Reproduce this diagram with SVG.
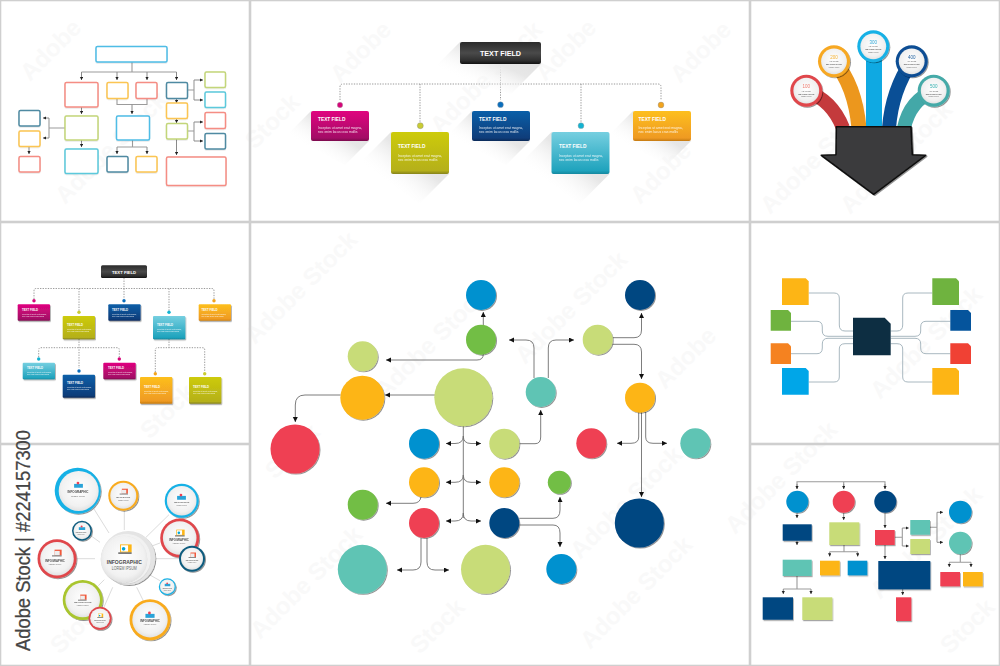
<svg xmlns="http://www.w3.org/2000/svg" width="1000" height="666" viewBox="0 0 1000 666">
<style>
text{font-family:"Liberation Sans",Arial,sans-serif}
.wm{font-size:24px;font-weight:700;fill:#f9f9f9}
.fr{fill:none;stroke:#cfcfcf;stroke-width:1.6}
.ob{fill:#fff;stroke-width:1.5;filter:url(#soft)}
.cg{fill:none;stroke:#9b9b9b;stroke-width:1.1}
.ca{fill:none;stroke:#6e6e6e;stroke-width:.9;marker-end:url(#ah)}
.cs{fill:none;stroke:#8a8a8a;stroke-width:1;marker-end:url(#as)}
.dot{fill:none;stroke:#8d8d8d;stroke-width:.9;stroke-dasharray:1.3 1.3}
.cl{fill:none;stroke:#a9b8c0;stroke-width:1}
.sp{stroke:#dcdcdc;stroke-width:1}
.tt{font-weight:700;fill:#fff}
.t2{font-size:4.800px}
.t4{font-size:2.800px}
.bd{fill:#fff;opacity:.85}
.b2{font-size:3.400px}
.b4{font-size:1.900px}
.c{filter:url(#ds)}
.f{filter:url(#fs)}
.ln{fill:url(#ls)}
.lg{fill:#c8dc78}.or{fill:#fdb515}.bl{fill:#0091cf}.gr{fill:#72be44}.rd{fill:#ef4052}.te{fill:#5fc4b4}.nv{fill:#034681}
.in{font-weight:700;fill:#4a4a4a;text-anchor:middle}
.lo{fill:#6a6a6a;text-anchor:middle}
.n3{text-anchor:middle}
</style>
<defs>
<filter id="ds" x="-20%" y="-20%" width="150%" height="150%"><feDropShadow dx="1" dy="1" stdDeviation=".6" flood-color="#000" flood-opacity=".42"/></filter>
<filter id="fs" x="-20%" y="-20%" width="150%" height="150%"><feDropShadow dx=".8" dy="1.2" stdDeviation=".7" flood-color="#000" flood-opacity=".35"/></filter>
<filter id="soft" x="-10%" y="-10%" width="120%" height="120%"><feDropShadow dx="0" dy=".5" stdDeviation=".6" flood-color="#000" flood-opacity=".18"/></filter>
<marker id="ah" markerUnits="userSpaceOnUse" markerWidth="6" markerHeight="6" refX="5" refY="2.5" orient="auto"><path d="M0 0L5 2.500L0 5z" fill="#111"/></marker>
<marker id="as" markerUnits="userSpaceOnUse" markerWidth="4" markerHeight="4" refX="3.200" refY="1.700" orient="auto"><path d="M0 0L3.200 1.700L0 3.400z" fill="#222"/></marker>
<linearGradient id="ls" x1="1" y1="0" x2="0" y2="1"><stop offset="0" stop-color="#dcdcdc"/><stop offset=".4" stop-color="#e7e7e7"/><stop offset=".72" stop-color="#fff" stop-opacity="0"/></linearGradient>
<linearGradient id="gD" x1="0" y1="0" x2="0" y2="1"><stop offset="0" stop-color="#2b2b2b"/><stop offset=".5" stop-color="#4a4a4a"/><stop offset=".85" stop-color="#2e2e2e"/><stop offset="1" stop-color="#111"/></linearGradient>
<linearGradient id="gM" x1="0" y1="0" x2="0" y2="1"><stop offset="0" stop-color="#e0047f"/><stop offset=".9" stop-color="#a30c66"/><stop offset="1" stop-color="#7a0a4c"/></linearGradient>
<linearGradient id="gO" x1="0" y1="0" x2="0" y2="1"><stop offset="0" stop-color="#cdcb0a"/><stop offset=".92" stop-color="#b5b01a"/><stop offset="1" stop-color="#85821a"/></linearGradient>
<linearGradient id="gB" x1="0" y1="0" x2="0" y2="1"><stop offset="0" stop-color="#0a5fa8"/><stop offset=".9" stop-color="#0f3d7a"/><stop offset="1" stop-color="#0b2a58"/></linearGradient>
<linearGradient id="gC" x1="0" y1="0" x2="0" y2="1"><stop offset="0" stop-color="#76cfe0"/><stop offset=".92" stop-color="#1fa3bd"/><stop offset="1" stop-color="#15889f"/></linearGradient>
<linearGradient id="gY" x1="0" y1="0" x2="0" y2="1"><stop offset="0" stop-color="#fdbf1e"/><stop offset=".9" stop-color="#ef9a22"/><stop offset="1" stop-color="#c47a12"/></linearGradient>
<radialGradient id="disc" cx=".5" cy=".45" r=".6"><stop offset="0" stop-color="#fff"/><stop offset=".72" stop-color="#f1f1f1"/><stop offset="1" stop-color="#dcdcdc"/></radialGradient>
<symbol id="ic" viewBox="0 0 20 14"><rect x="5" y="1" width="13" height="9" fill="#fdb515"/><rect x="6" y="2" width="8" height="7" fill="#fff"/><circle cx="9" cy="6" r="2" fill="#00a6d8"/><rect x="3" y="10" width="15" height="1.500" fill="#555"/></symbol>
<symbol id="ir" viewBox="0 0 20 14"><rect x="7" y="1" width="11" height="9" fill="#f05a3c"/><rect x="7" y="3" width="8" height="7" fill="#eee"/><rect x="3" y="10" width="15" height="1.500" fill="#666"/></symbol>
<symbol id="ib" viewBox="0 0 20 14"><rect x="2" y="5" width="16" height="7" fill="#2aa3d8"/><circle cx="9" cy="3.500" r="2.500" fill="#ef4052"/></symbol>
</defs>
<rect width="1000" height="666" fill="#fff"/>

<g id="watermark">
<text class="wm" transform="rotate(-45 30 82)" x="30" y="82">Adobe</text>
<text class="wm" transform="rotate(-45 65 205)" x="65" y="205">Adobe Stock</text>
<text class="wm" transform="rotate(-45 340 84)" x="340" y="84">Adobe</text>
<text class="wm" transform="rotate(-45 255 150)" x="255" y="150">Stock</text>
<text class="wm" transform="rotate(-45 440 135)" x="440" y="135">Adobe Stock</text>
<text class="wm" transform="rotate(-45 545 82)" x="545" y="82">Adobe</text>
<text class="wm" transform="rotate(-45 640 205)" x="640" y="205">Adobe</text>
<text class="wm" transform="rotate(-45 680 84)" x="680" y="84">Adobe</text>
<text class="wm" transform="rotate(-45 770 215)" x="770" y="215">Adobe Stock</text>
<text class="wm" transform="rotate(-45 850 215)" x="850" y="215">Adobe Stock</text>
<text class="wm" transform="rotate(-45 255 345)" x="255" y="345">Adobe Stock</text>
<text class="wm" transform="rotate(-45 385 400)" x="385" y="400">Adobe Stock</text>
<text class="wm" transform="rotate(-45 275 480)" x="275" y="480">Stock</text>
<text class="wm" transform="rotate(-45 525 365)" x="525" y="365">Adobe Stock</text>
<text class="wm" transform="rotate(-45 580 560)" x="580" y="560">Adobe Stock</text>
<text class="wm" transform="rotate(-45 665 390)" x="665" y="390">Adobe</text>
<text class="wm" transform="rotate(-45 260 640)" x="260" y="640">Adobe Stock</text>
<text class="wm" transform="rotate(-45 420 655)" x="420" y="655">Stock</text>
<text class="wm" transform="rotate(-45 590 650)" x="590" y="650">Adobe Stock</text>
<text class="wm" transform="rotate(-45 735 535)" x="735" y="535">Adobe Stock</text>
<text class="wm" transform="rotate(-45 880 400)" x="880" y="400">Adobe Stock</text>
<text class="wm" transform="rotate(-45 880 600)" x="880" y="600">Adobe Stock</text>
<text class="wm" transform="rotate(-45 950 655)" x="950" y="655">Stock</text>
<text class="wm" transform="rotate(-45 60 655)" x="60" y="655">Stock</text>
<text class="wm" transform="rotate(-45 150 440)" x="150" y="440">Stock</text>
</g>

<g id="frames">
<rect class="fr" x=".5" y=".5" width="249" height="221"/>
<rect class="fr" x="250.500" y=".5" width="499" height="221"/>
<rect class="fr" x="750.500" y=".5" width="249" height="221"/>
<rect class="fr" x=".5" y="222.500" width="249" height="221"/>
<rect class="fr" x="250.500" y="222.500" width="499" height="443"/>
<rect class="fr" x="750.500" y="222.500" width="249" height="221"/>
<rect class="fr" x=".5" y="444.500" width="249" height="221"/>
<rect class="fr" x="750.500" y="444.500" width="249" height="221"/>
</g>

<g id="connectors">
<!-- panel 1 -->
<path class="cg" d="M132 62V72M81.500 72H176.500M117 99V104.500H147V99M49 118V138M65 128H49M194 80V100M187 90H194M194 122V141M187 131H194"/>
<path class="cs" d="M81.500 72V80"/><path class="cs" d="M117 72V80"/><path class="cs" d="M147 72V80"/><path class="cs" d="M176.500 72V80"/>
<path class="cs" d="M132 104.500V114"/><path class="cs" d="M81.500 107V114"/><path class="cs" d="M81.500 140V147"/>
<path class="cs" d="M176.500 99V103"/><path class="cs" d="M176.500 119V123"/><path class="cs" d="M176.500 139V155"/>
<path class="cs" d="M194 80H203"/><path class="cs" d="M194 100H203"/><path class="cs" d="M194 122H203"/><path class="cs" d="M194 141H203"/>
<path class="cs" d="M49 118H43"/><path class="cs" d="M49 138H43"/><path class="cs" d="M29 147V154"/>
<path class="cg" d="M132.500 140V147H117M132.500 147H147"/><path class="cs" d="M117 147V154"/><path class="cs" d="M147 147V154"/>
<!-- panel 2 -->
<path class="dot" d="M500.500 64V84M340 100V87Q340 84 343 84H658Q661 84 661 87V100M420 84V122M500.500 84V100M581 84V122"/>
<!-- panel 4 -->
<path class="dot" d="M124 278V288.500M34 299V291Q34 288.500 36 288.500H212Q214 288.500 214 291V299M79 288.500V311M124 288.500V299M169 288.500V311"/>
<path class="dot" d="M79 339V368M38.700 357V350Q38.700 347.700 41 347.700H117Q119.300 347.700 119.300 350V357"/>
<path class="dot" d="M169 339V347.700M155.300 372V350Q155.300 347.700 157.500 347.700H202.500Q204.700 347.700 204.700 350V372"/>
<!-- panel 5 spokes -->
<line class="sp" x1="94" y1="509" x2="109" y2="533"/>
<line class="sp" x1="124.300" y1="510.700" x2="124.300" y2="530"/>
<line class="sp" x1="169" y1="514.700" x2="146" y2="537.300"/>
<line class="sp" x1="160" y1="543" x2="152.700" y2="545.700"/>
<line class="sp" x1="181.700" y1="558.700" x2="156" y2="558.700"/>
<line class="sp" x1="160" y1="580.700" x2="150" y2="575"/>
<line class="sp" x1="143.300" y1="600.700" x2="136.700" y2="587.300"/>
<line class="sp" x1="104" y1="607" x2="112.700" y2="587.300"/>
<line class="sp" x1="98.300" y1="585.700" x2="104.300" y2="579.700"/>
<line class="sp" x1="76.700" y1="558.700" x2="95" y2="558.700"/>
<line class="sp" x1="91.700" y1="536.300" x2="100" y2="542.300"/>
<!-- main panel -->
<path class="ca" d="M483.300 325V312"/>
<path class="ca" d="M483.300 354Q483.300 360 477 360H386"/>
<path class="ca" d="M435 395H385"/>
<path class="ca" d="M340.700 395H305Q295.300 395 295.300 405V422"/>
<path fill="none" stroke="#6e6e6e" stroke-width=".9" d="M463.300 426V518"/>
<path class="ca" d="M463.300 436Q463.300 443.500 455 443.500H446"/><path class="ca" d="M463.300 436Q463.300 443.500 471 443.500H481"/>
<path class="ca" d="M463.300 475Q463.300 482.300 455 482.300H446"/><path class="ca" d="M463.300 475Q463.300 482.300 471 482.300H481"/>
<path class="ca" d="M463.300 513Q463.300 521 455 521H446"/><path class="ca" d="M463.300 513Q463.300 521 471 521H481"/>
<path class="ca" d="M421 497Q420 503.300 413 503.300H386"/>
<path class="ca" d="M421 538V562Q421 570 413 570H397"/>
<path class="ca" d="M427 538V562Q427 570 435 570H449"/>
<path class="ca" d="M519.300 443.700H535Q540.700 443.700 540.700 437V410"/>
<path class="ca" d="M534 378V348Q534 340 526 340H509"/>
<path class="ca" d="M548.300 378V348Q548.300 340 556 340H574"/>
<path class="ca" d="M612.700 337.700H634Q641.500 337.700 641.500 330V313"/>
<path class="ca" d="M612.700 344.300H634Q641.500 344.300 641.500 352V379"/>
<path class="ca" d="M638.700 412V437Q638.700 443.300 631 443.300H617"/>
<path class="ca" d="M641.500 412V497"/>
<path class="ca" d="M645.700 412V437Q645.700 443.300 653 443.300H667"/>
<path class="ca" d="M519.300 518.300H553Q560 518.300 560 510V497"/>
<path class="ca" d="M519.300 525H553Q560 525 560 533V547"/>
<!-- panel 6 -->
<path class="cl" d="M808.700 293H834Q839.300 293 839.300 298V325Q839.300 331 845 331H853"/>
<path class="cl" d="M791 321.300H817Q822.300 321.300 822.300 327V331Q822.300 336.300 828 336.300H853"/>
<path class="cl" d="M791 353.700H817Q822.300 353.700 822.300 348V344Q822.300 338.300 828 338.300H853"/>
<path class="cl" d="M808.700 382H834Q839.300 382 839.300 377V349Q839.300 343.700 845 343.700H853"/>
<path class="cl" d="M932.300 293H908Q902.700 293 902.700 298V325Q902.700 331 897 331H890.700"/>
<path class="cl" d="M950.300 321.300H926Q920.700 321.300 920.700 327V331Q920.700 336.300 915 336.300H890.700"/>
<path class="cl" d="M950.300 353.700H926Q920.700 353.700 920.700 348V344Q920.700 338.300 915 338.300H890.700"/>
<path class="cl" d="M932.300 382H908Q902.700 382 902.700 377V349Q902.700 343.700 897 343.700H890.700"/>
<!-- panel 7 -->
<path class="cg" d="M797 489V481.700H885V489M843.700 481.700V489M844 545V551.700M829.700 551.700H857.700M894.700 537.300H902.300M902.300 528V546M930 527.300H937M937 512.300V542.300M960.300 554V562.300M949.300 562.300H971M797 576V589M783.300 589H811"/>
<path class="cs" d="M797 484V489"/><path class="cs" d="M843.700 484V489"/><path class="cs" d="M885 484V489"/>
<path class="cs" d="M797 513V518"/><path class="cs" d="M797 540.700V545"/><path class="cs" d="M843.700 513V520"/><path class="cs" d="M885 513V528"/>
<path class="cs" d="M829.700 551.700V556.500"/><path class="cs" d="M857.700 551.700V556.500"/>
<path class="cs" d="M902.300 528H908.700"/><path class="cs" d="M902.300 546H908.700"/><path class="cs" d="M885 545V559"/>
<path class="cs" d="M937 512.300H943"/><path class="cs" d="M937 542.300H943"/>
<path class="cs" d="M949.300 562.300V567"/><path class="cs" d="M971 562.300V567"/>
<path class="cs" d="M783.300 589V594"/><path class="cs" d="M811 589V594"/><path class="cs" d="M902.700 589V595"/>
</g>

<!-- Panel 1 outlined boxes -->
<g id="p1-nodes">
<g id="p1-top"><rect class="ob" x="96" y="46.500" width="71" height="15.500" rx="1.500" stroke="#4fbde6"/></g>
<g id="p1-a"><rect class="ob" x="65" y="82.500" width="33" height="24.500" rx="1.500" stroke="#f58d84"/></g>
<g id="p1-b"><rect class="ob" x="107" y="82.500" width="21" height="16" rx="1.500" stroke="#fcc552"/></g>
<g id="p1-c"><rect class="ob" x="136" y="82.500" width="21" height="16" rx="1.500" stroke="#f58d84"/></g>
<g id="p1-d"><rect class="ob" x="166.500" y="82.500" width="21" height="16" rx="1.500" stroke="#4f8aa2"/></g>
<g id="p1-e"><rect class="ob" x="205" y="72" width="20.500" height="15.500" rx="1.500" stroke="#c3d67a"/></g>
<g id="p1-f"><rect class="ob" x="205" y="92" width="20.500" height="15.500" rx="1.500" stroke="#5cc9dc"/></g>
<g id="p1-g"><rect class="ob" x="205" y="112.500" width="20.500" height="16" rx="1.500" stroke="#f58d84"/></g>
<g id="p1-h"><rect class="ob" x="205" y="133.500" width="20.500" height="15.500" rx="1.500" stroke="#4f8aa2"/></g>
<g id="p1-i"><rect class="ob" x="166.500" y="103" width="21" height="15.500" rx="1.500" stroke="#fcc552"/></g>
<g id="p1-j"><rect class="ob" x="166.500" y="123.500" width="21" height="15.500" rx="1.500" stroke="#c3d67a"/></g>
<g id="p1-k"><rect class="ob" x="166.500" y="157" width="59.500" height="28.500" rx="1.500" stroke="#f58d84"/></g>
<g id="p1-l"><rect class="ob" x="65" y="116" width="33" height="24" rx="1.500" stroke="#c3d67a"/></g>
<g id="p1-m"><rect class="ob" x="116.500" y="116" width="33" height="24" rx="1.500" stroke="#4fbde6"/></g>
<g id="p1-n"><rect class="ob" x="65" y="149" width="33" height="24.500" rx="1.500" stroke="#5cc9dc"/></g>
<g id="p1-o"><rect class="ob" x="107" y="156.500" width="21" height="15.500" rx="1.500" stroke="#4f8aa2"/></g>
<g id="p1-p"><rect class="ob" x="136" y="156.500" width="21" height="15.500" rx="1.500" stroke="#fcc552"/></g>
<g id="p1-q"><rect class="ob" x="19" y="110.500" width="21" height="15.500" rx="1.500" stroke="#4f8aa2"/></g>
<g id="p1-r"><rect class="ob" x="19" y="131" width="21" height="15.500" rx="1.500" stroke="#fcc552"/></g>
<g id="p1-s"><rect class="ob" x="19" y="156.500" width="21" height="15.500" rx="1.500" stroke="#f58d84"/></g>
</g>

<!-- Panel 2 -->
<g id="p2-nodes">
<g id="p2-root"><polygon class="ln" points="460,42 541,64 511,94 430,72"/><rect x="460" y="42" width="81" height="22" rx="2" fill="url(#gD)"/><text class="tt" x="500.500" y="55.500" font-size="7.200" text-anchor="middle">TEXT FIELD</text></g>
<g id="p2-a"><polygon class="ln" points="311,111 369,141 345,165 287,135"/><rect x="311" y="111" width="58" height="30" rx="2" fill="url(#gM)"/><text class="tt t2" x="318" y="120.700">TEXT FIELD</text><text class="bd b2" x="318" y="129">Inceptos ut amet erat magna,</text><text class="bd b2" x="318" y="133">nec enim lacus cras mollis</text><circle cx="340" cy="105" r="2.700" fill="#d6047a" stroke="#999" stroke-width=".4"/></g>
<g id="p2-b"><polygon class="ln" points="391,132 449,174 419,204 361,162"/><rect x="391" y="132" width="58" height="42" rx="2" fill="url(#gO)"/><text class="tt t2" x="398" y="148">TEXT FIELD</text><text class="bd b2" x="398" y="156.500">Inceptos ut amet erat magna,</text><text class="bd b2" x="398" y="160.500">nec enim lacus cras mollis</text><circle cx="420.300" cy="125.700" r="3" fill="#c9cc33" stroke="#888" stroke-width=".4"/></g>
<g id="p2-c"><polygon class="ln" points="472,111 530,141 506,165 448,135"/><rect x="472" y="111" width="58" height="30" rx="2" fill="url(#gB)"/><text class="tt t2" x="479" y="120.700">TEXT FIELD</text><text class="bd b2" x="479" y="129">Inceptos ut amet erat magna,</text><text class="bd b2" x="479" y="133">nec enim lacus cras mollis</text><circle cx="500.500" cy="104.700" r="2.900" fill="#0a6ebd" stroke="#999" stroke-width=".4"/></g>
<g id="p2-d"><polygon class="ln" points="551.500,132 609.500,174 579.500,204 521.500,162"/><rect x="551.500" y="132" width="58" height="42" rx="2" fill="url(#gC)"/><text class="tt t2" x="559" y="148">TEXT FIELD</text><text class="bd b2" x="559" y="156.500">Inceptos ut amet erat magna,</text><text class="bd b2" x="559" y="160.500">nec enim lacus cras mollis</text><circle cx="581" cy="125.700" r="2.900" fill="#12b3d2" stroke="#999" stroke-width=".4"/></g>
<g id="p2-e"><polygon class="ln" points="633,111 691,141 667,165 609,135"/><rect x="633" y="111" width="58" height="30" rx="2" fill="url(#gY)"/><text class="tt t2" x="638.500" y="120.700">TEXT FIELD</text><text class="bd b2" x="638.500" y="129">Inceptos ut amet erat magna,</text><text class="bd b2" x="638.500" y="133">nec enim lacus cras mollis</text><circle cx="661" cy="105" r="2.900" fill="#f2a41e" stroke="#888" stroke-width=".4"/></g>
</g>

<!-- Panel 3 -->
<g id="p3-nodes">
<g id="p3-bands" fill="none" stroke-width="14">
<path d="M806 91Q832 100 843 128" stroke="#c43a3c"/>
<path d="M834 61Q855 85 859 128" stroke="#ec971d" stroke-width="15"/>
<path d="M874 46V128" stroke="#0fa9e2" stroke-width="16"/>
<path d="M912 61Q892 90 889 128" stroke="#0a4f96"/>
<path d="M934 91Q910 100 904 128" stroke="#43a8a8"/>
</g>
<g id="p3-arrow"><path d="M836.300 126.700H911L912.300 154.700 925.700 155.300 873.700 194.300 821.300 155.300 836 154.700z" fill="#3b3b3d" stroke="#111" stroke-width="1.600" stroke-linejoin="round" filter="url(#ds)"/></g>
<g id="p3-1" class="c"><circle cx="806.300" cy="90.700" r="16" fill="#e0474c"/><circle cx="806.300" cy="90.700" r="12.900" fill="url(#disc)"/><text class="n3" x="806.300" y="88" font-size="4.500" fill="#ef7a6c">100</text><text class="lo" x="806.300" y="91.500" font-size="1.800">HEADLINE</text><text class="in" x="806.300" y="94.500" font-size="2.300">INFOGRAPHIC</text><text class="lo" x="806.300" y="97" font-size="1.500">LOREM IPSUM</text></g>
<g id="p3-2" class="c"><circle cx="834" cy="61.300" r="16" fill="#f7a823"/><circle cx="834" cy="61.300" r="12.900" fill="url(#disc)"/><text class="n3" x="834" y="58.500" font-size="4.500" fill="#f5b233">200</text><text class="lo" x="834" y="62" font-size="1.800">HEADLINE</text><text class="in" x="834" y="65" font-size="2.300">INFOGRAPHIC</text><text class="lo" x="834" y="67.500" font-size="1.500">LOREM IPSUM</text></g>
<g id="p3-3" class="c"><circle cx="873.300" cy="46.300" r="16" fill="#19b1e6"/><circle cx="873.300" cy="46.300" r="12.900" fill="url(#disc)"/><text class="n3" x="873.300" y="43.500" font-size="4.500" fill="#30a8d8">300</text><text class="lo" x="873.300" y="47" font-size="1.800">HEADLINE</text><text class="in" x="873.300" y="50" font-size="2.300">INFOGRAPHIC</text><text class="lo" x="873.300" y="52.500" font-size="1.500">LOREM IPSUM</text></g>
<g id="p3-4" class="c"><circle cx="911.700" cy="61.300" r="16" fill="#0b4e94"/><circle cx="911.700" cy="61.300" r="12.900" fill="url(#disc)"/><text class="n3" x="911.700" y="58.500" font-size="4.500" fill="#1e5f9e">400</text><text class="lo" x="911.700" y="62" font-size="1.800">HEADLINE</text><text class="in" x="911.700" y="65" font-size="2.300">INFOGRAPHIC</text><text class="lo" x="911.700" y="67.500" font-size="1.500">LOREM IPSUM</text></g>
<g id="p3-5" class="c"><circle cx="933.700" cy="90.700" r="16" fill="#45aaa8"/><circle cx="933.700" cy="90.700" r="12.900" fill="url(#disc)"/><text class="n3" x="933.700" y="88" font-size="4.500" fill="#35b0b0">500</text><text class="lo" x="933.700" y="91.500" font-size="1.800">HEADLINE</text><text class="in" x="933.700" y="94.500" font-size="2.300">INFOGRAPHIC</text><text class="lo" x="933.700" y="97" font-size="1.500">LOREM IPSUM</text></g>
</g>

<!-- Panel 4 -->
<g id="p4-nodes">
<g id="p4-root"><rect x="101" y="265.300" width="46" height="12.700" rx="1.500" fill="url(#gD)"/><text class="tt" x="124" y="273.500" font-size="4.200" text-anchor="middle">TEXT FIELD</text></g>
<g id="p4-a"><rect x="17.700" y="304.300" width="32.300" height="16.500" rx="1" fill="url(#gM)" class="f"/><text class="tt t4" x="22" y="310.500">TEXT FIELD</text><text class="bd b4" x="22" y="314.500">Inceptos ut amet erat magna,</text><text class="bd b4" x="22" y="316.700">nec enim lacus cras mollis</text><circle cx="34" cy="300.700" r="1.700" fill="#d6047a"/></g>
<g id="p4-b"><rect x="62.700" y="316" width="32.300" height="23.300" rx="1" fill="url(#gO)" class="f"/><text class="tt t4" x="67" y="325.500">TEXT FIELD</text><text class="bd b4" x="67" y="329.500">Inceptos ut amet erat magna,</text><text class="bd b4" x="67" y="331.700">nec enim lacus cras mollis</text><circle cx="79" cy="312.300" r="1.700" fill="#c9cc33"/></g>
<g id="p4-c"><rect x="108.300" y="304.300" width="32.300" height="16.500" rx="1" fill="url(#gB)" class="f"/><text class="tt t4" x="112" y="310.500">TEXT FIELD</text><text class="bd b4" x="112" y="314.500">Inceptos ut amet erat magna,</text><text class="bd b4" x="112" y="316.700">nec enim lacus cras mollis</text><circle cx="124" cy="300.700" r="1.700" fill="#0a6ebd"/></g>
<g id="p4-d"><rect x="153" y="316" width="32.300" height="23.300" rx="1" fill="url(#gC)" class="f"/><text class="tt t4" x="157" y="325.500">TEXT FIELD</text><text class="bd b4" x="157" y="329.500">Inceptos ut amet erat magna,</text><text class="bd b4" x="157" y="331.700">nec enim lacus cras mollis</text><circle cx="169" cy="312.300" r="1.700" fill="#12b3d2"/></g>
<g id="p4-e"><rect x="198.700" y="304.300" width="32.300" height="16.500" rx="1" fill="url(#gY)" class="f"/><text class="tt t4" x="201.500" y="310.500">TEXT FIELD</text><text class="bd b4" x="201.500" y="314.500">Inceptos ut amet erat magna,</text><text class="bd b4" x="201.500" y="316.700">nec enim lacus cras mollis</text><circle cx="214" cy="300.700" r="1.700" fill="#f2a41e"/></g>
<g id="p4-f"><rect x="22.700" y="362.700" width="32.300" height="16.600" rx="1" fill="url(#gC)" class="f"/><text class="tt t4" x="27" y="369">TEXT FIELD</text><text class="bd b4" x="27" y="373">Inceptos ut amet erat magna,</text><text class="bd b4" x="27" y="375.200">nec enim lacus cras mollis</text><circle cx="38.700" cy="359" r="1.700" fill="#12b3d2"/></g>
<g id="p4-g"><rect x="62.700" y="374.700" width="32.300" height="23" rx="1" fill="url(#gB)" class="f"/><text class="tt t4" x="67" y="383.500">TEXT FIELD</text><text class="bd b4" x="67" y="387.500">Inceptos ut amet erat magna,</text><text class="bd b4" x="67" y="389.700">nec enim lacus cras mollis</text><circle cx="79" cy="371" r="1.700" fill="#0a6ebd"/></g>
<g id="p4-h"><rect x="103.300" y="362.700" width="32.400" height="16.600" rx="1" fill="url(#gM)" class="f"/><text class="tt t4" x="108" y="369">TEXT FIELD</text><text class="bd b4" x="108" y="373">Inceptos ut amet erat magna,</text><text class="bd b4" x="108" y="375.200">nec enim lacus cras mollis</text><circle cx="119.300" cy="359" r="1.700" fill="#d6047a"/></g>
<g id="p4-i"><rect x="140" y="377" width="32.300" height="26.700" rx="1" fill="url(#gY)" class="f"/><text class="tt t4" x="144" y="388">TEXT FIELD</text><text class="bd b4" x="144" y="392">Inceptos ut amet erat magna,</text><text class="bd b4" x="144" y="394.200">nec enim lacus cras mollis</text><circle cx="155.300" cy="373.700" r="1.700" fill="#f2a41e"/></g>
<g id="p4-j"><rect x="189" y="377" width="32.300" height="26.700" rx="1" fill="url(#gO)" class="f"/><text class="tt t4" x="193" y="388">TEXT FIELD</text><text class="bd b4" x="193" y="392">Inceptos ut amet erat magna,</text><text class="bd b4" x="193" y="394.200">nec enim lacus cras mollis</text><circle cx="204.700" cy="373.700" r="1.700" fill="#c9cc33"/></g>
</g>

<text id="stock-id" transform="translate(29.500 651) rotate(-90)" font-size="20" fill="#444" stroke="#444" stroke-width=".25" textLength="221" lengthAdjust="spacingAndGlyphs">Adobe Stock | #224157300</text>

<!-- Panel 5 -->
<g id="p5-nodes">
<g id="p5-a" class="c"><circle cx="77.700" cy="490.700" r="23" fill="#19b1e6"/><circle cx="78.700" cy="490.900" r="20" fill="url(#disc)"/><use href="#ib" x="73" y="481" width="11" height="8"/><text class="in" x="78" y="492.800" font-size="3">INFOGRAPHIC</text><text class="lo" x="78" y="496.500" font-size="2">LOREM IPSUM</text></g>
<g id="p5-b" class="c"><circle cx="123.300" cy="495.700" r="15" fill="#f9ab1f"/><circle cx="123.300" cy="495.700" r="13" fill="url(#disc)"/><use href="#ir" x="118" y="488" width="11" height="8"/><text class="in" x="123.300" y="498" font-size="2">INFOGRAPHIC</text><text class="lo" x="123.300" y="500.500" font-size="1.500">LOREM IPSUM</text></g>
<g id="p5-c" class="c"><circle cx="181.700" cy="500.700" r="17" fill="#19b1e6"/><circle cx="181.700" cy="500.700" r="14.800" fill="url(#disc)"/><use href="#ib" x="176" y="493" width="11" height="8"/><text class="in" x="181.700" y="503" font-size="2.200">INFOGRAPHIC</text><text class="lo" x="181.700" y="506" font-size="1.500">LOREM IPSUM</text></g>
<g id="p5-d" class="c"><circle cx="179.700" cy="538" r="19.500" fill="#e0474c"/><circle cx="179.700" cy="538" r="16.800" fill="url(#disc)"/><use href="#ic" x="173" y="529" width="13" height="9"/><text class="in" x="179" y="540.500" font-size="2.800">INFOGRAPHIC</text><text class="lo" x="179" y="543.500" font-size="1.800">LOREM IPSUM</text></g>
<g id="p5-e" class="c"><circle cx="192" cy="558.700" r="13" fill="#0f5b7e"/><circle cx="192" cy="558.700" r="11" fill="url(#disc)"/><use href="#ir" x="187" y="552" width="10" height="7"/><text class="in" x="192" y="560.500" font-size="1.800">INFOGRAPHIC</text><text class="lo" x="192" y="563" font-size="1.200">LOREM IPSUM</text></g>
<g id="p5-f" class="c"><circle cx="167.300" cy="586.700" r="8.500" fill="#19b1e6"/><circle cx="167.300" cy="586.700" r="7.300" fill="url(#disc)"/><use href="#ib" x="164" y="582" width="7" height="5"/><text class="in" x="167.300" y="588.500" font-size="1.300">INFOGRAPHIC</text><text class="lo" x="167.300" y="590.500" font-size="1">LOREM IPSUM</text></g>
<g id="p5-g" class="c"><circle cx="150" cy="619.700" r="20.500" fill="#f9ab1f"/><circle cx="150" cy="619.700" r="17.700" fill="url(#disc)"/><use href="#ib" x="144" y="611" width="12" height="8"/><text class="in" x="150" y="622" font-size="2.800">INFOGRAPHIC</text><text class="lo" x="150" y="625" font-size="1.800">LOREM IPSUM</text></g>
<g id="p5-i" class="c"><circle cx="82.700" cy="600" r="20" fill="#a9c52f"/><circle cx="82.700" cy="600" r="17.300" fill="url(#disc)"/><use href="#ir" x="76" y="594" width="12" height="8"/><text class="in" x="82.700" y="603" font-size="2.500">INFOGRAPHIC</text><text class="lo" x="82.700" y="605.500" font-size="1.700">LOREM IPSUM</text></g>
<g id="p5-h" class="c"><circle cx="100" cy="618.300" r="11.500" fill="#e0474c"/><circle cx="100" cy="618.300" r="9.800" fill="url(#disc)"/><use href="#ic" x="96" y="613" width="8" height="6"/><text class="in" x="100" y="620.500" font-size="1.600">INFOGRAPHIC</text><text class="lo" x="100" y="622.500" font-size="1.100">LOREM IPSUM</text></g>
<g id="p5-j" class="c"><circle cx="57" cy="558.700" r="19.500" fill="#e0474c"/><circle cx="57" cy="558.700" r="16.800" fill="url(#disc)"/><use href="#ir" x="50" y="549" width="13" height="9"/><text class="in" x="55" y="561.500" font-size="2.800">INFOGRAPHIC</text><text class="lo" x="55" y="564.500" font-size="1.800">LOREM IPSUM</text></g>
<g id="p5-k" class="c"><circle cx="82" cy="530.700" r="10" fill="#0f5b7e"/><circle cx="82" cy="530.700" r="8.500" fill="url(#disc)"/><use href="#ib" x="78" y="525" width="8" height="6"/><text class="in" x="81" y="532.500" font-size="1.500">INFOGRAPHIC</text><text class="lo" x="81" y="534.500" font-size="1">LOREM IPSUM</text></g>
<g id="p5-hub"><circle cx="128.300" cy="558" r="27" fill="#e4e4e4" class="c"/><circle cx="126" cy="558.500" r="24.800" fill="#f1f1f1" filter="url(#soft)"/><circle cx="124" cy="559" r="23.300" fill="url(#disc)" filter="url(#soft)"/><use href="#ic" x="115.500" y="543.500" width="18" height="12.500"/><text class="in" x="124.300" y="564" font-size="6.200" textLength="35" lengthAdjust="spacingAndGlyphs">INFOGRAPHIC</text><text class="lo" x="124.300" y="570.300" font-size="4.800" textLength="25" lengthAdjust="spacingAndGlyphs">LOREM IPSUM</text></g>
</g>

<!-- Main panel circles -->
<g id="main-nodes">
<g id="m1"><circle class="c bl" cx="481" cy="295" r="15"/></g>
<g id="m2"><circle class="c gr" cx="481" cy="339.700" r="15"/></g>
<g id="m3"><circle class="c lg" cx="362.700" cy="356.300" r="15"/></g>
<g id="m4"><circle class="c or" cx="362.300" cy="397.700" r="22"/></g>
<g id="m5"><circle class="c lg" cx="463.300" cy="397.300" r="29"/></g>
<g id="m6"><circle class="c rd" cx="295" cy="449" r="24.500"/></g>
<g id="m7"><circle class="c bl" cx="424" cy="443.700" r="15"/></g>
<g id="m8"><circle class="c or" cx="424" cy="482.300" r="15"/></g>
<g id="m9"><circle class="c gr" cx="362.700" cy="504.700" r="15"/></g>
<g id="m10"><circle class="c rd" cx="424" cy="523" r="15"/></g>
<g id="m11"><circle class="c te" cx="362.300" cy="569.300" r="24.500"/></g>
<g id="m12"><circle class="c lg" cx="485.500" cy="569.300" r="24.500"/></g>
<g id="m13"><circle class="c lg" cx="504.300" cy="443.700" r="15"/></g>
<g id="m14"><circle class="c or" cx="504.300" cy="482.300" r="15"/></g>
<g id="m15"><circle class="c nv" cx="504.300" cy="523" r="15"/></g>
<g id="m16"><circle class="c te" cx="540.700" cy="392" r="15"/></g>
<g id="m17"><circle class="c lg" cx="597.700" cy="339.700" r="15"/></g>
<g id="m18"><circle class="c nv" cx="640" cy="295" r="15"/></g>
<g id="m19"><circle class="c or" cx="640" cy="397.700" r="15"/></g>
<g id="m20"><circle class="c rd" cx="591.300" cy="443.300" r="15"/></g>
<g id="m21"><circle class="c te" cx="695.300" cy="443.300" r="15"/></g>
<g id="m22"><circle class="c nv" cx="639.300" cy="523" r="24.500"/></g>
<g id="m23"><circle class="c gr" cx="559.300" cy="482.300" r="11.500"/></g>
<g id="m24"><circle class="c bl" cx="561.300" cy="569" r="15"/></g>
</g>

<!-- Panel 6 -->
<g id="p6-nodes">
<g id="p6-hub"><path d="M853 317.700H884.700L890.700 323.700V355.300H853z" fill="#0d2e42"/></g>
<g id="p6-a"><path d="M782 278.300H805.700L808.700 281.300V305H782z" fill="#fdb515"/></g>
<g id="p6-b"><path d="M770.700 310H788L791 313V330.700H770.700z" fill="#6fb33f"/></g>
<g id="p6-c"><path d="M770.700 343.300H788L791 346.300V364H770.700z" fill="#f58220"/></g>
<g id="p6-d"><path d="M782 368H805.700L808.700 371V394.700H782z" fill="#00a6e8"/></g>
<g id="p6-e"><path d="M932.300 278.300H956L959 281.300V305H932.300z" fill="#6fb33f"/></g>
<g id="p6-f"><path d="M950.300 310H968L971 313V330.700H950.300z" fill="#05549c"/></g>
<g id="p6-g"><path d="M950.300 343.300H968L971 346.300V364H950.300z" fill="#f04134"/></g>
<g id="p6-h"><path d="M932.300 368H956L959 371V394.700H932.300z" fill="#fdb515"/></g>
</g>

<!-- Panel 7 -->
<g id="p7-nodes">
<g id="p7-c1"><circle class="c bl" cx="797.300" cy="501.700" r="11"/></g>
<g id="p7-c2"><circle class="c rd" cx="843.700" cy="501.700" r="11"/></g>
<g id="p7-c3"><circle class="c nv" cx="885.300" cy="501.700" r="11"/></g>
<g id="p7-c4"><circle class="c bl" cx="960.300" cy="512" r="11.300"/></g>
<g id="p7-c5"><circle class="c te" cx="960.300" cy="543" r="11.300"/></g>
<g id="p7-r1"><rect class="f nv" x="782.700" y="524.300" width="29" height="16.400"/></g>
<g id="p7-r2"><rect class="f lg" x="829.300" y="522.300" width="30" height="22.700"/></g>
<g id="p7-r3"><rect class="f rd" x="875" y="530" width="19.700" height="15"/></g>
<g id="p7-r4"><rect class="f te" x="910.300" y="520" width="19.700" height="14.700"/></g>
<g id="p7-r5"><rect class="f lg" x="910.300" y="539" width="19.700" height="15"/></g>
<g id="p7-r6"><rect class="f te" x="782.700" y="559.700" width="29" height="16.300"/></g>
<g id="p7-r7"><rect class="f or" x="820" y="560.700" width="19.700" height="14.600"/></g>
<g id="p7-r8"><rect class="f bl" x="847.700" y="560.700" width="19.600" height="14.600"/></g>
<g id="p7-r9"><rect class="f nv" x="878.300" y="561" width="52" height="28.300"/></g>
<g id="p7-r10"><rect class="f rd" x="896" y="597.300" width="15.300" height="23.700"/></g>
<g id="p7-r11"><rect class="f nv" x="762.700" y="597.300" width="30.300" height="22.400"/></g>
<g id="p7-r12"><rect class="f lg" x="802.300" y="597.300" width="30" height="22.700"/></g>
<g id="p7-r13"><rect class="f rd" x="940.300" y="572" width="19.700" height="14.300"/></g>
<g id="p7-r14"><rect class="f or" x="963" y="572" width="19.700" height="14.300"/></g>
</g>
</svg>
